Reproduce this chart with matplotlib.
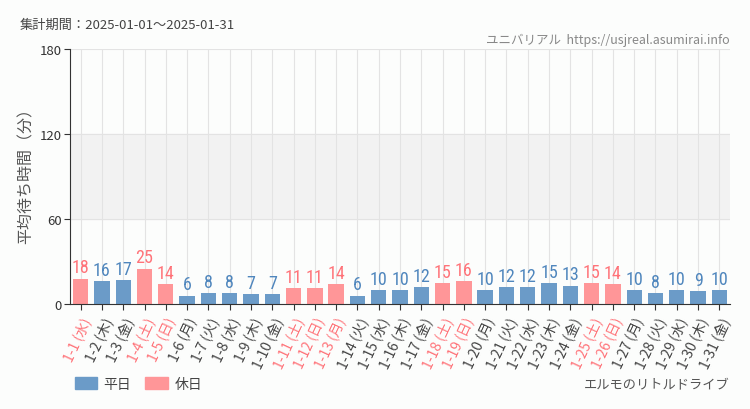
import matplotlib.pyplot as plt
from matplotlib import font_manager
from matplotlib.patches import Patch

# === DATA ===

days = [
    "1-1 (水)", "1-2 (木)", "1-3 (金)", "1-4 (土)", "1-5 (日)", "1-6 (月)", "1-7 (火)",
    "1-8 (水)", "1-9 (木)", "1-10 (金)", "1-11 (土)", "1-12 (日)", "1-13 (月)", "1-14 (火)",
    "1-15 (水)", "1-16 (木)", "1-17 (金)", "1-18 (土)", "1-19 (日)", "1-20 (月)", "1-21 (火)",
    "1-22 (水)", "1-23 (木)", "1-24 (金)", "1-25 (土)", "1-26 (日)", "1-27 (月)", "1-28 (火)",
    "1-29 (水)", "1-30 (木)", "1-31 (金)",
]
wait_minutes = [18, 16, 17, 25, 14, 6, 8, 8, 7, 7, 11, 11, 14, 6, 10, 10, 12, 15, 16,
                10, 12, 12, 15, 13, 15, 14, 10, 8, 10, 9, 10]
holidays = ["1-1", "1-4", "1-5", "1-11", "1-12", "1-13", "1-18", "1-19", "1-25", "1-26"]
y_ticks = [0, 60, 120, 180]

# === STYLE ===

plt.rcParams["font.family"] = ["Noto Sans CJK JP", "DejaVu Sans"]
names = {f.name for f in font_manager.fontManager.ttflist}
num_font = "DejaVu Sans"
for cand in ["Roboto Condensed", "Liberation Sans Narrow", "Open Sans Condensed",
             "DejaVu Sans Condensed"]:
    if cand in names:
        num_font = cand
        break

blue, pink = "#6b9bc8", "#ff9698"
blue_txt, pink_txt = "#4f86bd", "#ff7379"

is_holiday = [d.split(" ")[0] in holidays for d in days]
colors = [pink if h else blue for h in is_holiday]
x = list(range(len(days)))

fig = plt.figure(figsize=(7.5, 4.1), dpi=100, facecolor="#fcfdfc")
ax = fig.add_axes([70 / 750, 1 - 305 / 410, 660 / 750, 255 / 410])
ax.set_facecolor("#fcfdfc")

ax.axhspan(60, 120, color="#f2f2f2", zorder=0)
for xi in x:
    ax.axvline(xi, color="#e3e3e3", lw=0.8, zorder=0)
for yt in y_ticks[1:]:
    ax.axhline(yt, color="#e3e3e3", lw=0.8, zorder=0)

ax.bar(x, wait_minutes, width=0.72, color=colors, zorder=2)
for xi, v, h in zip(x, wait_minutes, is_holiday):
    ax.text(xi, v + 1.5, str(v), ha="center", va="bottom", fontsize=13,
            family=num_font, color=pink_txt if h else blue_txt)

ax.set_xlim(-0.5, len(days) - 0.5)
ax.set_ylim(0, 180)
ax.set_yticks(y_ticks)
ax.tick_params(axis="y", labelsize=9.5, colors="#333333", length=4, pad=2)
ax.set_xticks(x)
ax.set_xticklabels(days, rotation=65, ha="right", rotation_mode="anchor", fontsize=10)
ax.tick_params(axis="x", length=4, colors="#333333")
for lbl, h in zip(ax.get_xticklabels(), is_holiday):
    lbl.set_color(pink_txt if h else "#444444")

for side in ["top", "right"]:
    ax.spines[side].set_visible(False)
ax.spines["left"].set_color("#333333")
ax.spines["bottom"].set_color("#333333")

ax.set_ylabel("平均待ち時間（分）", fontsize=11.5, color="#555555")
ax.yaxis.set_label_coords(-35 / 660, 0.52)

fig.text(20 / 750, 1 - 25 / 410, "集計期間：2025-01-01～2025-01-31",
         fontsize=9.5, color="#444444", va="center")
fig.text(730 / 750, 1 - 40 / 410, "ユニバリアル  https://usjreal.asumirai.info",
         fontsize=9, color="#888888", ha="right", va="center")
fig.text(730 / 750, 1 - 385 / 410, "エルモのリトルドライブ",
         fontsize=9.5, color="#555555", ha="right", va="center")

handles = [Patch(color=blue, label="平日"), Patch(color=pink, label="休日")]
fig.legend(handles=handles, loc="center left", bbox_to_anchor=(62 / 750, 1 - 385 / 410),
           ncol=2, frameon=False, fontsize=10, handlelength=1.6, handleheight=0.9,
           columnspacing=1.0, handletextpad=0.5, labelcolor="#444444")

fig.savefig("out.png", dpi=100, facecolor=fig.get_facecolor())
